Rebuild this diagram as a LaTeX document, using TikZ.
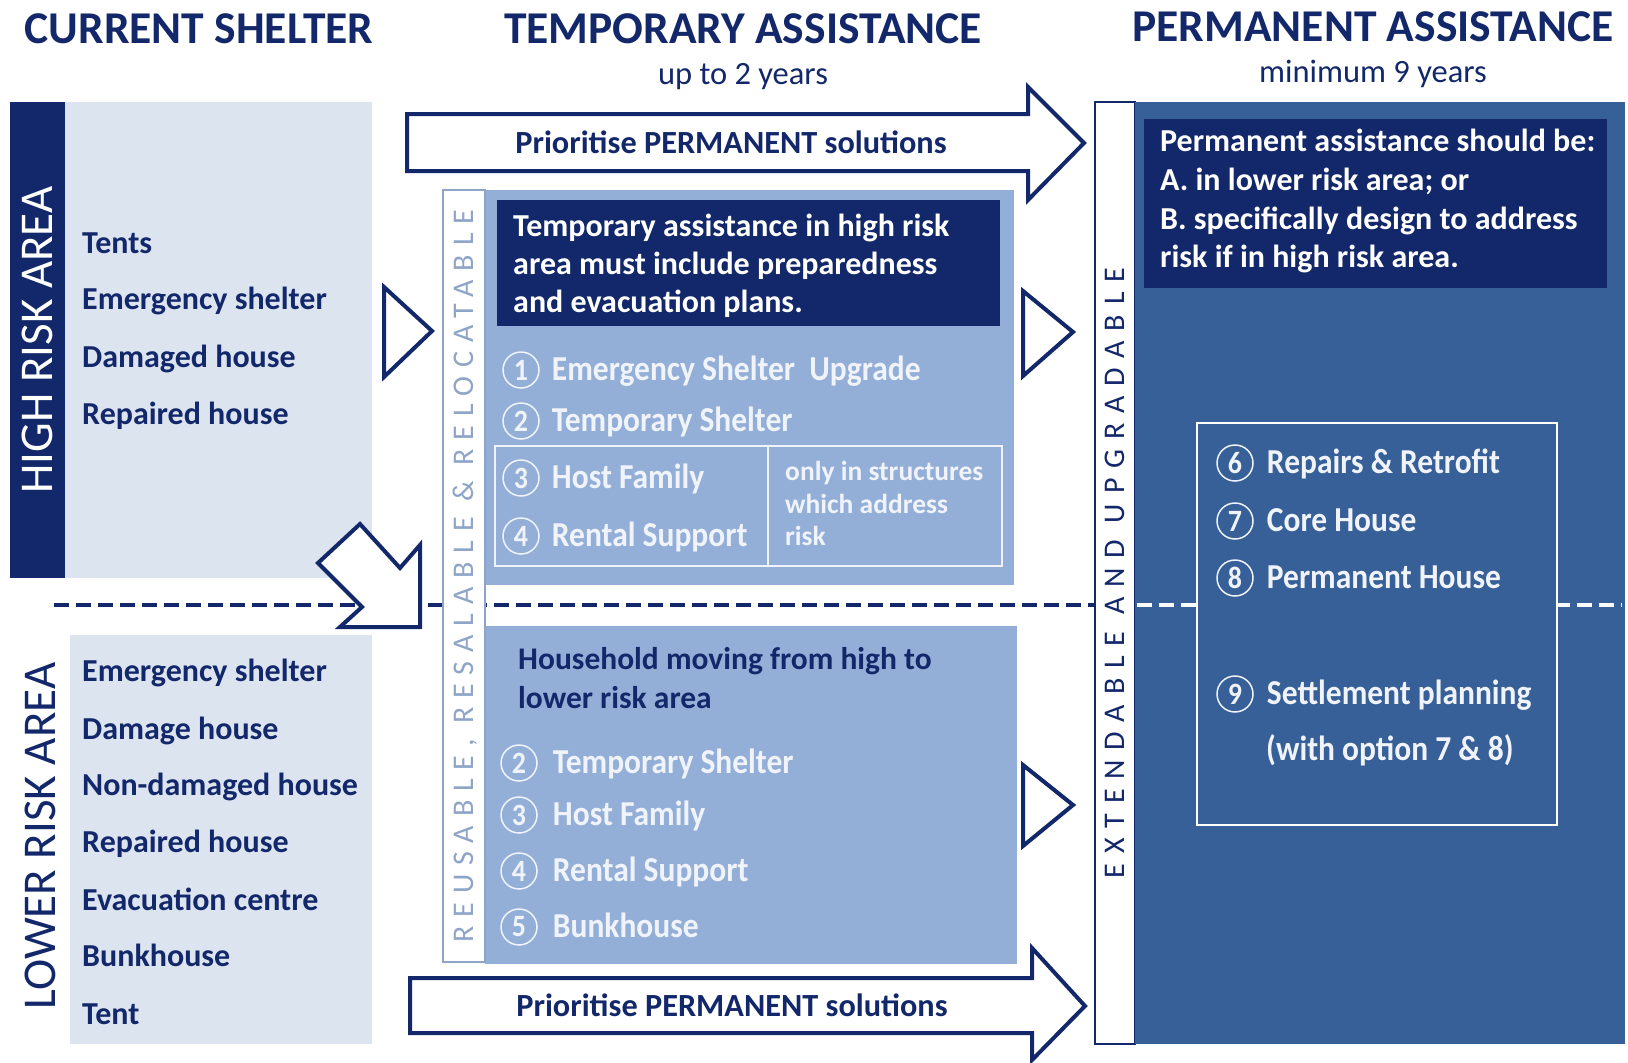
\documentclass[tikz,border=0pt]{standalone}
\usepackage{fontspec}
\setmainfont{Carlito}
\newfontfamily\narrowfont[FakeStretch=0.9]{Carlito}
\usepackage{tikz}
\usetikzlibrary{positioning}

\definecolor{navy}{HTML}{13286A}
\definecolor{paleblue}{HTML}{DCE4F0}
\definecolor{midblue}{HTML}{93AFD7}
\definecolor{steelblue}{HTML}{375F98}
\definecolor{bandgrey}{HTML}{8FA5C8}
\definecolor{softwhite}{HTML}{F0F4FA}
\newcommand{\fsz}[2]{\fontsize{#1}{#2}\selectfont}

\begin{document}
\begin{tikzpicture}[x=1pt,y=-1pt]
\tikzstyle{hdr}=[text=navy,font=\fsz{45.5}{52}\bfseries,inner sep=0pt,text height=28.2pt,text depth=0pt];
\tikzstyle{sub}=[text=navy,font=\fsz{32.5}{38},inner sep=0pt,text height=20.2pt,text depth=0pt];
\tikzstyle{area}=[rotate=90,font=\fsz{47}{54},inner sep=0pt,text height=29.1pt,text depth=0pt];
\tikzstyle{cur}=[anchor=west,text=navy,font=\fsz{32}{38}\bfseries,inner sep=0pt,text height=19.8pt,text depth=0pt];
\tikzstyle{band}=[rotate=90,inner sep=0pt,text height=18.6pt,text depth=0pt];
\tikzstyle{num}=[circle,draw=softwhite,line width=1.5pt,inner sep=0pt,minimum size=36pt,text=softwhite,font=\narrowfont\fsz{31}{34}\bfseries];
\tikzstyle{opt}=[anchor=west,text=softwhite,font=\narrowfont\fsz{35}{40}\bfseries,inner sep=0pt,text height=21.7pt,text depth=0pt];
\tikzstyle{pri}=[text=navy,font=\fsz{32.3}{38}\bfseries,inner sep=0pt,text height=20pt,text depth=0pt];
\tikzstyle{blk}=[draw=navy,fill=white,line width=4pt,line join=miter];
\tikzstyle{para}=[anchor=north west,align=left,inner sep=0pt];

\fill[white] (0,0) rectangle (1628,1063);
\useasboundingbox (0,0) rectangle (1628,1063);

% current shelter column
\fill[navy] (10,102) rectangle (65,578);
\fill[paleblue] (65,102) rectangle (372,578);
\fill[paleblue] (70,635) rectangle (372,1044);
\draw[navy,line width=4pt,dash pattern=on 15pt off 7pt] (54,605) -- (1095,605);
\draw[blk] (360,524) -- (400,568) -- (420,545) -- (420,627) -- (340,627) -- (362,607) -- (318,563) -- cycle;

% temporary column
\fill[midblue] (485,190) rectangle (1014,585);
\fill[navy] (497,200) rectangle (1000,326);
\draw[softwhite,line width=2.5pt] (495,446) rectangle (1002,566) (768,446) -- (768,566);
\fill[midblue] (485,626) rectangle (1017,964);
\draw[bandgrey,fill=white,line width=2pt] (443,190) rectangle (485,962);
\draw[blk] (407,114) -- (1028,114) -- (1028,87) -- (1084,143) -- (1028,200) -- (1028,171) -- (407,171) -- cycle;
\draw[blk] (410,978) -- (1032,978) -- (1032,948) -- (1085,1006) -- (1032,1060) -- (1032,1033) -- (410,1033) -- cycle;
\draw[blk] (384,287) -- (432,331) -- (384,377) -- cycle;
\draw[blk] (1023,291) -- (1073,332) -- (1023,376) -- cycle;
\draw[blk] (1023,765) -- (1073,805) -- (1023,846) -- cycle;

% permanent column
\draw[navy,fill=white,line width=2pt] (1095,102) rectangle (1135,1044);
\fill[steelblue] (1135,102) rectangle (1625,1044);
\fill[navy] (1144,119) rectangle (1607,288);
\draw[white,line width=4pt,dash pattern=on 15pt off 7pt] (1137,605) -- (1622,605);
\draw[white,fill=steelblue,line width=2.5pt] (1197,423) rectangle (1557,825);

% headings
\node[hdr] (cur) at (199,29) {CURRENT SHELTER};
\node[hdr] (tmp) at (743,29) {TEMPORARY ASSISTANCE};
\node[sub] (tmpyr) at (743,74) {up to 2 years};
\node[hdr] (perm) at (1373,27) {PERMANENT ASSISTANCE};
\node[sub] (permyr) at (1373,72) {minimum 9 years};

% risk areas
\node[area,text=white] (high) at (38,340) {HIGH RISK AREA};
\node[area,text=navy] (low) at (41,836) {LOWER RISK AREA};
\node[cur] (h1) at (82,244) {Tents};
\node[cur] (h2) at (82,300) {Emergency shelter};
\node[cur] (h3) at (82,358) {Damaged house};
\node[cur] (h4) at (82,415) {Repaired house};
\node[cur] (l1) at (82,672) {Emergency shelter};
\node[cur] (l2) at (82,730) {Damage house};
\node[cur] (l3) at (82,786) {Non-damaged house};
\node[cur] (l4) at (82,843) {Repaired house};
\node[cur] (l5) at (82,901) {Evacuation centre};
\node[cur] (l6) at (82,957) {Bunkhouse};
\node[cur] (l7) at (82,1015) {Tent};

% bands
\node[band,text=bandgrey,font=\fsz{30}{36}\addfontfeature{LetterSpace=29.6}] (reuse) at (464,576) {REUSABLE, RESALABLE \& RELOCATABLE};
\node[band,text=navy,font=\fsz{30}{36}\addfontfeature{LetterSpace=33}] (extend) at (1115,573) {EXTENDABLE AND UPGRADABLE};
\node[pri] (pri1) at (731,143) {Prioritise PERMANENT solutions};
\node[pri] (pri2) at (732,1006) {Prioritise PERMANENT solutions};

% temporary options
\node[para,text=white,font=\fsz{32}{38}\bfseries] (warn) at (513,214) {Temporary assistance in high risk\\area must include preparedness\\and evacuation plans.};
\node[num] (t1) at (521,370) {1};
\node[opt,right=12pt of t1] (t1txt) {Emergency Shelter\ \ Upgrade};
\node[num] (t2) at (521,421) {2};
\node[opt,right=12pt of t2] (t2txt) {Temporary Shelter};
\node[num] (t3) at (521,478) {3};
\node[opt,right=12pt of t3] (t3txt) {Host Family};
\node[num] (t4) at (521,536) {4};
\node[opt,right=12pt of t4] (t4txt) {Rental Support};
\node[para,text=softwhite,font=\fsz{27.5}{32.5}\bfseries] (only) at (785,461) {only in structures\\which address\\risk};

\node[para,text=navy,font=\fsz{31.5}{39}\bfseries] (move) at (518,647) {Household moving from high to\\lower risk area};
\node[num] (m2) at (519,763) {2};
\node[opt,right=15pt of m2] (m2txt) {Temporary Shelter};
\node[num] (m3) at (519,815) {3};
\node[opt,right=15pt of m3] (m3txt) {Host Family};
\node[num] (m4) at (519,871) {4};
\node[opt,right=15pt of m4] (m4txt) {Rental Support};
\node[num] (m5) at (519,927) {5};
\node[opt,right=15pt of m5] (m5txt) {Bunkhouse};

% permanent options
\node[para,text=white,font=\fsz{32}{38.7}\bfseries] (should) at (1160,129) {Permanent assistance should be:\\A. in lower risk area; or\\B. specifically design to address\\risk if in high risk area.};
\node[num] (p6) at (1235,463) {6};
\node[opt,right=13pt of p6] (p6txt) {Repairs \& Retrofit};
\node[num] (p7) at (1235,521) {7};
\node[opt,right=13pt of p7] (p7txt) {Core House};
\node[num] (p8) at (1235,578) {8};
\node[opt,right=13pt of p8] (p8txt) {Permanent House};
\node[num] (p9) at (1235,694) {9};
\node[opt,right=13pt of p9] (p9txt) {Settlement planning};
\node[opt] (p9sub) at (1266,750) {(with option 7 \& 8)};
\end{tikzpicture}
\end{document}
